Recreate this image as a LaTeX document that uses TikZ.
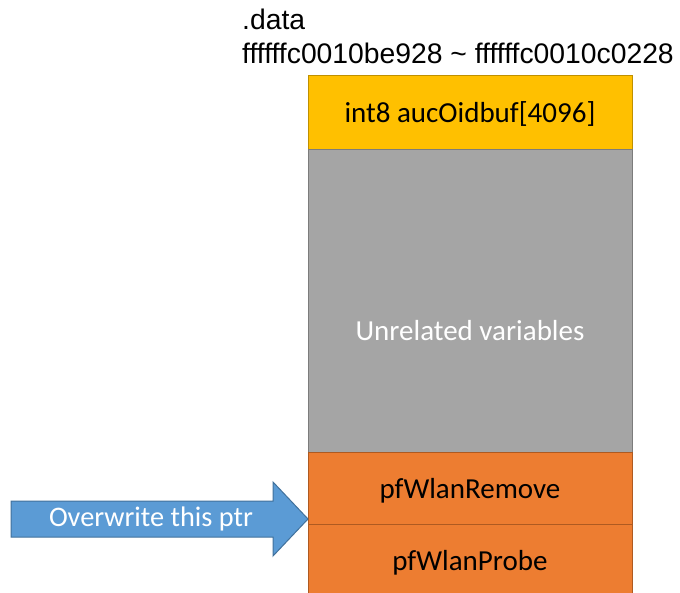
\documentclass[tikz,border=0pt]{standalone}
\usepackage{fontspec}
\setmainfont{Carlito}
\newfontfamily\headfont{Liberation Sans}
\usetikzlibrary{positioning}
\definecolor{BufClr}{HTML}{FFC000}
\definecolor{BufLine}{HTML}{BF9000}
\definecolor{VarClr}{HTML}{A5A5A5}
\definecolor{VarLine}{HTML}{7C7C7C}
\definecolor{PtrClr}{HTML}{ED7D31}
\definecolor{PtrLine}{HTML}{AE5A21}
\definecolor{ArrClr}{HTML}{5B9BD5}
\definecolor{ArrLine}{HTML}{41719C}

\begin{document}
\begin{tikzpicture}[x=1pt,y=1pt,
  cell/.style={draw=#1Line,fill=#1Clr,line width=1pt,minimum width=324pt,
    inner sep=0pt,outer sep=0pt,text depth=0pt,font=\fontsize{29}{34}\selectfont},
  head/.style={anchor=base west,inner sep=0pt,font=\headfont\fontsize{28.3}{34}\selectfont}]
\useasboundingbox (0,0) rectangle (680,-592);

% section header
\node[head] (sect) at (242,-29) {.data};
\node[head] (range) at (242,-63) {ffffffc0010be928 \char`~{} ffffffc0010c0228};

% memory layout
\node[cell=Buf,minimum height=74pt] (buf) at (470,-112) {int8 aucOidbuf[4096]};
\node[cell=Var,minimum height=303pt,below=0pt of buf] (unrel) {};
\node[text=white,font=\fontsize{29}{34}\selectfont] (unrellbl) at ([yshift=-30pt]unrel.center) {Unrelated variables};
\node[cell=Ptr,minimum height=72pt,below=0pt of unrel] (remove) {pfWlanRemove};
\node[cell=Ptr,minimum height=72pt,below=0pt of remove] (probe) {pfWlanProbe};

% arrow to the pointer
\coordinate (tip) at (308,-519);
\filldraw[fill=ArrClr,draw=ArrLine,line width=1pt]
  (11,-501) -- (273,-501) -- (273,-482) -- (tip) -- (273,-556) -- (273,-537) -- (11,-537) -- cycle;
\node[text=white,inner sep=0pt,font=\fontsize{28.3}{34}\selectfont] (ovw) at (151,-519) {Overwrite this ptr};

\end{tikzpicture}
\end{document}
